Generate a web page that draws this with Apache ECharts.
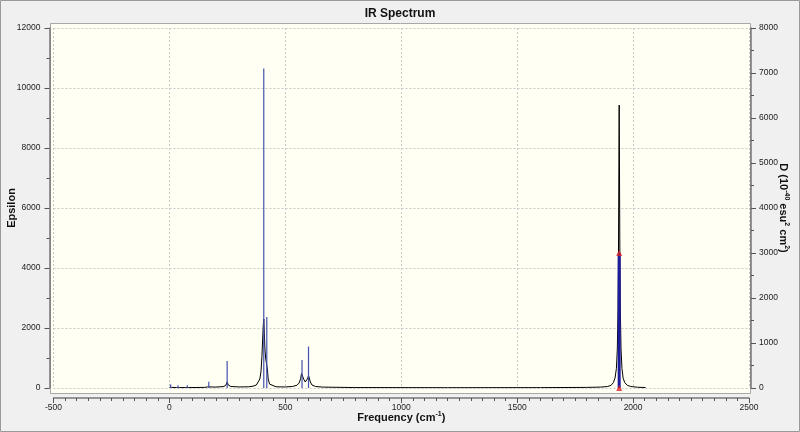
<!DOCTYPE html>
<html>
<head>
<meta charset="utf-8">
<title>IR Spectrum</title>
<script src="https://cdn.jsdelivr.net/npm/echarts@6/dist/echarts.min.js"></script>
<style>
  html, body { margin: 0; padding: 0; background: #f0f0f0; }
  #chart { width: 800px; height: 432px; }
</style>
</head>
<body>
<div id="chart"></div>
<script>
  // broadened spectrum (left axis, epsilon)
  const curveFreq = [0, 5, 10, 30, 37, 44, 70, 77, 84, 150, 165, 170, 175, 200, 235, 244, 249, 254, 265, 300,
    340, 361, 375, 383, 390, 395, 399, 402, 405, 407, 409, 412, 415, 418, 420, 423, 426, 432, 440, 460,
    500, 530, 550, 560, 566, 570, 573, 576, 580, 586, 592, 597, 600, 603, 608, 615, 630, 660, 800, 1200,
    1600, 1800, 1860, 1890, 1905, 1915, 1922, 1928, 1932, 1935, 1937, 1938.5, 1940, 1941.5, 1943, 1945, 1948, 1952, 1957, 1964,
    1975, 1990, 2020, 2054];
  const curveEps = [20, 60, 20, 15, 50, 15, 15, 45, 15, 20, 35, 90, 35, 30, 50, 100, 200, 100, 50, 35,
    40, 60, 100, 160, 300, 550, 1050, 1600, 2100, 2300, 1900, 1300, 1000, 1000, 950, 600, 300, 130, 70, 40,
    35, 50, 90, 170, 320, 480, 520, 420, 280, 200, 230, 330, 420, 360, 200, 100, 50, 30, 15, 10,
    12, 20, 30, 50, 90, 180, 330, 650, 1300, 2600, 4500, 7000, 9430, 7000, 4500, 2600, 1300, 650, 330, 180,
    90, 50, 25, 15];

  // stick spectrum (right axis, dipole strength)
  const stickFreq = [5, 37, 77, 170, 249, 407, 420, 572, 600, 1940];
  const stickD = [80, 60, 60, 140, 600, 7100, 1580, 620, 920, 3000];

  // highlighted mode
  const selectedFreq = 1940;
  const selectedD = 3000;

  const xTicks = [-500, 2500, 500];
  const epsTicks = [0, 12000, 2000];
  const dTicks = [0, 8000, 1000];

  const curveData = curveFreq.map((f, i) => [f, curveEps[i]]);
  const stickData = stickFreq.map((f, i) => [f, stickD[i]]);

  const font = 'Liberation Sans';
  const plain = (v) => String(v);

  const chart = echarts.init(document.getElementById('chart'), null, {
    width: 800,
    height: 432,
  });

  // shared axis look
  const axisLine = { show: true, onZero: false, lineStyle: { color: '#777', width: 1.5 } };
  const axisTick = { show: true, length: 5, lineStyle: { color: '#555' } };
  const minorTick = (n) => ({ show: true, splitNumber: n, length: 3, lineStyle: { color: '#555' } });
  const axisLabel = (m) => ({ fontSize: 8.5, color: '#222', margin: m, formatter: plain });
  const nameStyle = {
    fontSize: 11,
    fontWeight: 'bold',
    color: '#111',
    lineHeight: 14,
    rich: {
      s: { fontSize: 7, fontWeight: 'bold', color: '#111', lineHeight: 8, verticalAlign: 'top' },
    },
  };
  const gridLine = { show: true, lineStyle: { color: '#c8c8c8', type: [2, 2] } };

  const option = {
    animation: false,
    backgroundColor: '#f0f0f0',
    textStyle: { fontFamily: font },
    title: {
      text: 'IR Spectrum',
      left: 'center',
      top: 3,
      textStyle: { fontSize: 12, fontWeight: 'bold', color: '#111', fontFamily: font },
    },
    graphic: [
      {
        type: 'rect',
        z: -20,
        silent: true,
        shape: { x: 0.5, y: 0.5, width: 799, height: 431 },
        style: { fill: 'none', stroke: '#9a9a9a', lineWidth: 1 },
      },
      {
        // cream plot frame
        type: 'rect',
        z: -10,
        silent: true,
        shape: { x: 50.5, y: 23.5, width: 700, height: 370 },
        style: { fill: '#fffff4', stroke: '#a8a8a8', lineWidth: 1 },
      },
    ],
    grid: {
      left: 53.5,
      right: 51,
      top: 28,
      bottom: 44,
      containLabel: false,
      outerBoundsMode: 'none',
    },
    xAxis: {
      type: 'value',
      min: xTicks[0],
      max: xTicks[1],
      interval: xTicks[2],
      offset: 10,
      name: 'Frequency (cm{s|-1})',
      nameLocation: 'middle',
      nameGap: 13,
      nameMoveOverlap: false,
      nameTextStyle: nameStyle,
      axisLine: axisLine,
      axisTick: axisTick,
      minorTick: minorTick(10),
      axisLabel: axisLabel(5),
      splitLine: gridLine,
    },
    yAxis: [
      {
        type: 'value',
        position: 'left',
        min: epsTicks[0],
        max: epsTicks[1],
        interval: epsTicks[2],
        offset: 4,
        name: 'Epsilon',
        nameLocation: 'middle',
        nameGap: 31,
        nameMoveOverlap: false,
        nameTextStyle: nameStyle,
        axisLine: axisLine,
        axisTick: axisTick,
        minorTick: minorTick(2),
        axisLabel: axisLabel(9),
        splitLine: gridLine,
      },
      {
        type: 'value',
        position: 'right',
        min: dTicks[0],
        max: dTicks[1],
        interval: dTicks[2],
        offset: 2,
        name: 'D (10{s|-40} esu{s|2} cm{s|2})',
        nameLocation: 'middle',
        nameRotate: -90,
        nameGap: 25,
        nameMoveOverlap: false,
        nameTextStyle: nameStyle,
        axisLine: axisLine,
        axisTick: axisTick,
        minorTick: minorTick(2),
        axisLabel: axisLabel(8),
        splitLine: { show: false },
      },
    ],
    series: [
      {
        name: 'Epsilon',
        type: 'line',
        yAxisIndex: 0,
        data: curveData,
        showSymbol: false,
        lineStyle: { color: '#000', width: 1 },
        z: 2,
      },
      {
        name: 'D',
        type: 'custom',
        yAxisIndex: 1,
        data: stickData,
        encode: { x: 0, y: 1 },
        z: 3,
        renderItem(params, api) {
          const f = api.value(0);
          const p0 = api.coord([f, 0]);
          const p1 = api.coord([f, api.value(1)]);
          const sel = f === selectedFreq;
          return {
            type: 'line',
            shape: { x1: p0[0], y1: p0[1], x2: p1[0], y2: p1[1] },
            style: { stroke: sel ? '#1c1c9c' : '#4450b0', lineWidth: sel ? 3 : 1.2 },
          };
        },
      },
      {
        name: 'selected',
        type: 'scatter',
        yAxisIndex: 1,
        data: [[selectedFreq, 0], [selectedFreq, selectedD]],
        symbol: 'triangle',
        symbolSize: 6,
        itemStyle: { color: '#e02020' },
        z: 4,
      },
    ],
  };

  chart.setOption(option);
</script>
</body>
</html>
